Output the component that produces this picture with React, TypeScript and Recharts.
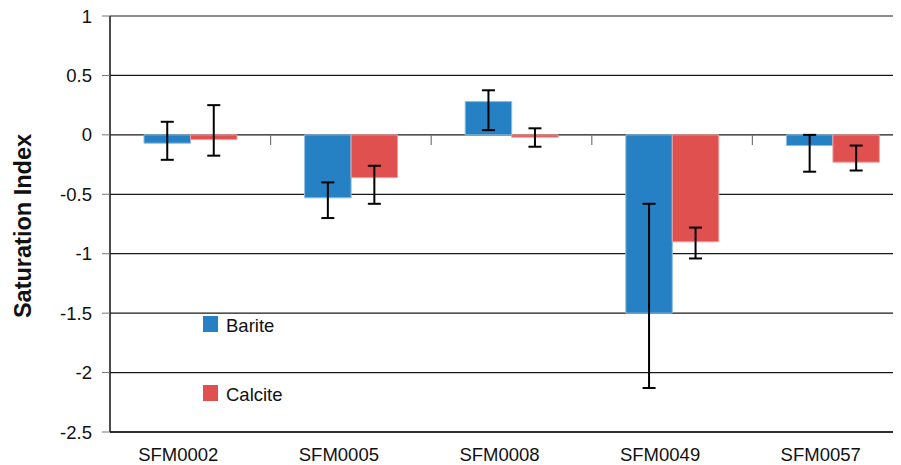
import { BarChart, Bar, XAxis, YAxis, CartesianGrid, ErrorBar, Legend, ReferenceLine } from 'recharts'

const SAMPLES = ['SFM0002', 'SFM0005', 'SFM0008', 'SFM0049', 'SFM0057']
const BARITE = [-0.07, -0.53, 0.28, -1.5, -0.09]
const BARITE_LOW = [-0.21, -0.7, 0.04, -2.13, -0.31]
const BARITE_HIGH = [0.11, -0.4, 0.375, -0.58, 0.0]
const CALCITE = [-0.04, -0.36, -0.02, -0.9, -0.23]
const CALCITE_LOW = [-0.175, -0.58, -0.1, -1.04, -0.3]
const CALCITE_HIGH = [0.25, -0.26, 0.055, -0.78, -0.09]
const Y_TICKS = [-2.5, -2, -1.5, -1, -0.5, 0, 0.5, 1]

const BLUE = '#2581c4'
const RED = '#df504f'
const FONT = '"Liberation Sans", Arial, sans-serif'

const data = SAMPLES.map((name, i) => ({
  name,
  barite: BARITE[i],
  bariteErr: [BARITE[i] - BARITE_LOW[i], BARITE_HIGH[i] - BARITE[i]],
  calcite: CALCITE[i],
  calciteErr: [CALCITE[i] - CALCITE_LOW[i], CALCITE_HIGH[i] - CALCITE[i]],
}))

const XTick = (props: any) => {
  const { x, y, payload } = props
  return (
    <text x={x - 12} y={y} dy="0.71em" textAnchor="middle" fontSize={18.5} fill="#111" fontFamily={FONT}>
      {payload.value}
    </text>
  )
}

const YLabel = () => (
  <text
    x={14.5}
    y={218}
    transform="rotate(-90 14.5 218)"
    textAnchor="middle"
    dominantBaseline="central"
    fontSize={23.5}
    fontWeight="bold"
    fill="#111"
    fontFamily={FONT}
  >
    Saturation Index
  </text>
)

const LegendBox = () => {
  const items = [
    { label: 'Barite', color: BLUE },
    { label: 'Calcite', color: RED },
  ]
  return (
    <div style={{ fontFamily: FONT, fontSize: 18.5, color: '#111' }}>
      {items.map((it) => (
        <div key={it.label} style={{ display: 'flex', alignItems: 'center', height: 69 }}>
          <span style={{ display: 'inline-block', width: 15, height: 16, background: it.color, marginRight: 8 }} />
          <span style={{ position: 'relative', top: 2 }}>{it.label}</span>
        </div>
      ))}
    </div>
  )
}

export default function App() {
  return (
    <div style={{ width: 893, height: 457, overflow: 'hidden', fontFamily: FONT }}>
      <BarChart
        width={915}
        height={457}
        data={data}
        margin={{ top: 8, right: 10, left: 0, bottom: 0 }}
        barGap={0}
        barSize={46.5}
      >
        <CartesianGrid vertical={false} stroke="#1a1a1a" strokeWidth={1.2} />
        <XAxis
          dataKey="name"
          height={33}
          tickLine={false}
          tickSize={8}
          tickMargin={8}
          axisLine={{ stroke: '#111', strokeWidth: 1.5 }}
          tick={<XTick />}
          interval={0}
        />
        <YAxis
          width={102}
          domain={[-2.5, 1]}
          ticks={Y_TICKS}
          interval={0}
          tickSize={8}
          tickMargin={10}
          tickLine={{ stroke: '#777' }}
          axisLine={{ stroke: '#111', strokeWidth: 1.5 }}
          tick={{ fontSize: 18.5, fill: '#111', fontFamily: FONT }}
          label={<YLabel />}
        />
        {SAMPLES.map((s) => (
          <ReferenceLine
            key={s}
            segment={[{ x: s, y: 0 }, { x: s, y: -0.085 }]}
            position="end"
            stroke="#777"
            strokeWidth={1.2}
            ifOverflow="visible"
          />
        ))}
        <Bar dataKey="barite" fill={BLUE} stroke="#8fbde2" strokeWidth={1} isAnimationActive={false}>
          <ErrorBar dataKey="bariteErr" width={6.5} strokeWidth={2} stroke="#000" direction="y" />
        </Bar>
        <Bar dataKey="calcite" fill={RED} stroke="#eea3a2" strokeWidth={1} isAnimationActive={false}>
          <ErrorBar dataKey="calciteErr" width={6.5} strokeWidth={2} stroke="#000" direction="y" />
        </Bar>
        <Legend
          layout="vertical"
          align="center"
          verticalAlign="middle"
          content={<LegendBox />}
          wrapperStyle={{ left: 195, top: 281, width: 120 }}
        />
      </BarChart>
    </div>
  )
}
